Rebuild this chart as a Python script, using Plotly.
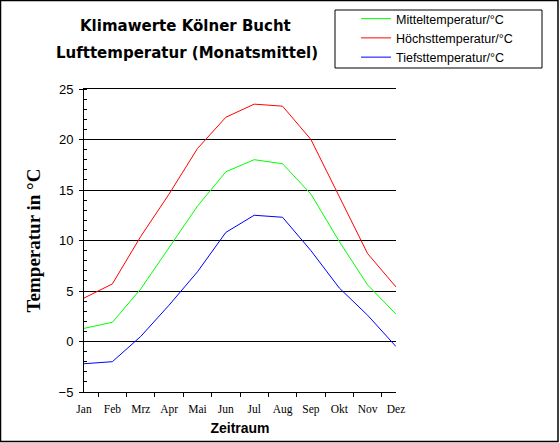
import plotly.graph_objs as go

# Monatsmittel der Lufttemperatur, Koelner Bucht
months = ['Jan', 'Feb', 'Mrz', 'Apr', 'Mai', 'Jun', 'Jul', 'Aug', 'Sep', 'Okt', 'Nov', 'Dez']
mittel = [1.3, 1.9, 5.2, 9.3, 13.4, 16.8, 18.0, 17.6, 14.6, 9.9, 5.6, 2.7]
hoechst = [4.3, 5.7, 10.4, 14.6, 19.1, 22.2, 23.5, 23.3, 20.0, 14.4, 8.7, 5.4]
tiefst = [-2.2, -2.0, 0.5, 3.6, 6.9, 10.8, 12.5, 12.3, 9.0, 5.3, 2.6, -0.5]

series_names = ['Mitteltemperatur/°C', 'Höchsttemperatur/°C', 'Tiefsttemperatur/°C']
y_ticks = [-5, 0, 5, 10, 15, 20, 25]

W, H = 560, 443
# plot area in pixels
L, R, T, B = 84, 396, 89, 392


def px_x(x):
    return (x - L) / (R - L)


def px_y(y):
    return (B - y) / (B - T)


sans = 'Arial, Liberation Sans, sans-serif'
serif = 'Times New Roman, Liberation Serif, serif'
wide = 'DejaVu Sans, Arial, sans-serif'

fig = go.Figure()
for name, vals, col in zip(series_names, [mittel, hoechst, tiefst], ['#00ff00', '#ff0000', '#0000ff']):
    fig.add_trace(go.Scatter(x=months, y=vals, name=name, mode='lines',
                             line={'color': col, 'width': 1}))

fig.update_layout(
    width=W, height=H,
    margin={'l': L, 'r': W - R, 't': T, 'b': H - B, 'pad': 0, 'autoexpand': False},
    paper_bgcolor='white', plot_bgcolor='white',
    font={'family': sans, 'size': 12, 'color': 'black'},
    showlegend=True,
    legend={'x': 356 / W, 'y': 1 - 4 / H, 'xref': 'container', 'yref': 'container',
            'xanchor': 'left', 'yanchor': 'top',
            'bgcolor': 'rgba(0,0,0,0)', 'borderwidth': 0,
            'font': {'family': sans, 'size': 12.5}, 'tracegroupgap': 0,
            'itemwidth': 30},
    annotations=[
        {'text': '<b>Klimawerte Kölner Bucht</b>', 'x': px_x(185), 'y': px_y(26),
         'xref': 'paper', 'yref': 'paper', 'showarrow': False,
         'xanchor': 'center', 'yanchor': 'middle',
         'font': {'family': wide, 'size': 15}},
        {'text': '<b>Lufttemperatur (Monatsmittel)</b>', 'x': px_x(187), 'y': px_y(53),
         'xref': 'paper', 'yref': 'paper', 'showarrow': False,
         'xanchor': 'center', 'yanchor': 'middle',
         'font': {'family': wide, 'size': 15}},
    ],
    shapes=[
        # outer frame
        {'type': 'rect', 'xref': 'paper', 'yref': 'paper',
         'x0': px_x(0.5), 'x1': px_x(558), 'y0': px_y(0.5), 'y1': px_y(441.5),
         'line': {'color': 'black', 'width': 1.5}, 'layer': 'below'},
        # legend box
        {'type': 'rect', 'xref': 'paper', 'yref': 'paper',
         'x0': px_x(335), 'x1': px_x(542), 'y0': px_y(10), 'y1': px_y(68),
         'line': {'color': 'black', 'width': 1}},
    ],
)

fig.update_xaxes(
    type='category', tickson='boundaries', ticks='outside', ticklen=4,
    tickcolor='black', showline=True, linecolor='black', linewidth=1,
    mirror=True,  # top line doubles as the 25-gridline
    showgrid=False, zeroline=False, tickangle=0, ticklabelstandoff=6,
    automargin=False,
    tickfont={'family': serif, 'size': 11.5},
    title={'text': '<b>Zeitraum</b>', 'font': {'family': sans, 'size': 14}, 'standoff': 8},
)
fig.update_yaxes(
    range=[-5, 25], tickvals=y_ticks, ticks='outside', ticklen=4, tickcolor='black',
    showline=True, linecolor='black', linewidth=1, automargin=False,
    showgrid=True, gridcolor='black', gridwidth=1, ticklabelstandoff=3,
    zeroline=True, zerolinecolor='black', zerolinewidth=1,
    minor={'dtick': 1, 'ticks': 'inside', 'ticklen': 3, 'tickcolor': 'black', 'showgrid': False},
    tickfont={'family': sans, 'size': 13},
    title={'text': '<b>Temperatur in °C</b>', 'font': {'family': serif, 'size': 19}, 'standoff': 12},
)

fig.write_html('out.html', config={'displayModeBar': False},
               post_script="document.body.style.margin='0';")
